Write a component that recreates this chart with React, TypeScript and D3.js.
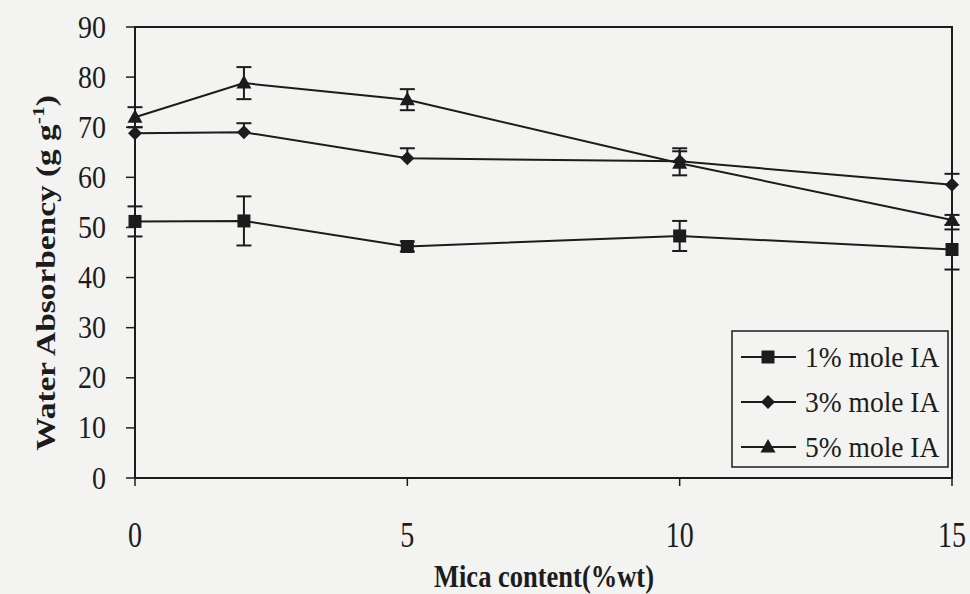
import React from "react";
import * as d3 from "d3";

// Mica content (%wt)
const micaContent = [0, 2, 5, 10, 15];

// Water absorbency (g/g) for each IA mole fraction
const ia1Values = [51.2, 51.3, 46.2, 48.3, 45.6];
const ia1ErrUp = [3, 4.9, 1, 3, 4];
const ia1ErrDown = [3, 4.9, 1, 3, 4];

const ia3Values = [68.8, 69, 63.8, 63.2, 58.5];
const ia3ErrUp = [1.2, 1.8, 2, 2.6, 2.2];
const ia3ErrDown = [0, 0, 0, 0, 0];

const ia5Values = [72, 78.8, 75.5, 62.8, 51.5];
const ia5ErrUp = [2, 3.2, 2.1, 2.4, 1];
const ia5ErrDown = [2, 3.2, 2.1, 2.4, 1];

const seriesNames = ["1% mole IA", "3% mole IA", "5% mole IA"];
const xTicks = [0, 5, 10, 15];
const yTicks = [0, 10, 20, 30, 40, 50, 60, 70, 80, 90];

type Shape = "square" | "diamond" | "triangle";

const series = [
  { name: seriesNames[0], values: ia1Values, up: ia1ErrUp, down: ia1ErrDown, shape: "square" as Shape },
  { name: seriesNames[1], values: ia3Values, up: ia3ErrUp, down: ia3ErrDown, shape: "diamond" as Shape },
  { name: seriesNames[2], values: ia5Values, up: ia5ErrUp, down: ia5ErrDown, shape: "triangle" as Shape },
];

const W = 970;
const H = 594;
const plot = { left: 135, right: 952, top: 27, bottom: 478 };
const ink = "#1c1c1c";
const bg = "#f3f3f1";
const serif = "'Liberation Serif', 'Times New Roman', serif";

function Marker({ shape, x, y }: { shape: Shape; x: number; y: number }) {
  if (shape === "square") {
    return <rect x={x - 6.5} y={y - 6.5} width={13} height={13} fill={ink} />;
  }
  if (shape === "diamond") {
    const r = 7;
    return <path d={`M${x},${y - r}L${x + r},${y}L${x},${y + r}L${x - r},${y}Z`} fill={ink} />;
  }
  return <path d={`M${x},${y - 8}L${x + 7.5},${y + 5.5}L${x - 7.5},${y + 5.5}Z`} fill={ink} />;
}

// Text drawn with a slight vertical stretch, anchored at (x, y)
function TallText({
  x,
  y,
  sy,
  children,
  ...rest
}: {
  x: number;
  y: number;
  sy: number;
  children: React.ReactNode;
  [k: string]: unknown;
}) {
  return (
    <text transform={`translate(${x},${y}) scale(1,${sy})`} fill={ink} {...rest}>
      {children}
    </text>
  );
}

export default function App() {
  const x = d3.scaleLinear().domain([0, 15]).range([plot.left, plot.right]);
  const y = d3.scaleLinear().domain([0, 90]).range([plot.bottom, plot.top]);
  const line = d3
    .line<number>()
    .x((_, i) => x(micaContent[i]))
    .y((v) => y(v));

  const legend = { left: 732, top: 331, right: 948, bottom: 467 };
  const rowY = [357, 402, 447];

  return (
    <svg
      width={W}
      height={H}
      style={{ position: "absolute", left: 0, top: 0, display: "block" }}
      fontFamily={serif}
    >
      <rect width={W} height={H} fill={bg} />

      {/* plot frame */}
      <rect
        x={plot.left}
        y={plot.top}
        width={plot.right - plot.left}
        height={plot.bottom - plot.top}
        fill="none"
        stroke={ink}
        strokeWidth={2}
      />

      {/* y axis ticks and labels */}
      {yTicks.map((t) => (
        <g key={`y${t}`}>
          <line x1={plot.left - 9} x2={plot.left} y1={y(t)} y2={y(t)} stroke={ink} strokeWidth={1.5} />
          <TallText x={106} y={y(t) + 10.5} sy={1.15} textAnchor="end" fontSize={28}>
            {t}
          </TallText>
        </g>
      ))}

      {/* x axis ticks and labels */}
      {xTicks.map((t) => (
        <g key={`x${t}`}>
          <line x1={x(t)} x2={x(t)} y1={plot.bottom} y2={plot.bottom + 8} stroke={ink} strokeWidth={1.5} />
          <TallText x={x(t)} y={547} sy={1.25} textAnchor="middle" fontSize={28}>
            {t}
          </TallText>
        </g>
      ))}

      {/* series lines */}
      {series.map((s) => (
        <path key={`l${s.name}`} d={line(s.values) ?? ""} fill="none" stroke={ink} strokeWidth={2} />
      ))}

      {/* error bars */}
      {series.map((s) =>
        s.values.map((v, i) => {
          const cx = x(micaContent[i]);
          const hi = y(v + s.up[i]);
          const lo = y(v - s.down[i]);
          return (
            <g key={`e${s.name}${i}`} stroke={ink} strokeWidth={2}>
              <line x1={cx} x2={cx} y1={hi} y2={lo} />
              {s.up[i] > 0 && <line x1={cx - 7.5} x2={cx + 7.5} y1={hi} y2={hi} />}
              {s.down[i] > 0 && <line x1={cx - 7.5} x2={cx + 7.5} y1={lo} y2={lo} />}
            </g>
          );
        })
      )}

      {/* markers */}
      {series.map((s) =>
        s.values.map((v, i) => (
          <Marker key={`m${s.name}${i}`} shape={s.shape} x={x(micaContent[i])} y={y(v)} />
        ))
      )}

      {/* legend */}
      <rect
        x={legend.left}
        y={legend.top}
        width={legend.right - legend.left}
        height={legend.bottom - legend.top}
        fill={bg}
        stroke={ink}
        strokeWidth={1.5}
      />
      {series.map((s, i) => (
        <g key={`lg${s.name}`}>
          <line x1={741} x2={796} y1={rowY[i]} y2={rowY[i]} stroke={ink} strokeWidth={2} />
          <Marker shape={s.shape} x={768} y={rowY[i]} />
          <TallText x={805} y={rowY[i] + 9.5} sy={1.05} fontSize={27.5}>
            {s.name}
          </TallText>
        </g>
      ))}

      {/* axis titles */}
      <TallText x={544} y={587} sy={1.2} textAnchor="middle" fontSize={26.5} fontWeight="bold">
        Mica content(%wt)
      </TallText>
      <text
        transform="translate(55,273) scale(1,1.26) rotate(-90)"
        textAnchor="middle"
        fontSize={26.5}
        fontWeight="bold"
        fill={ink}
      >
        Water Absorbency (g g
        <tspan dy={-11} fontSize={17}>
          -1
        </tspan>
        <tspan dy={11}>)</tspan>
      </text>
    </svg>
  );
}
